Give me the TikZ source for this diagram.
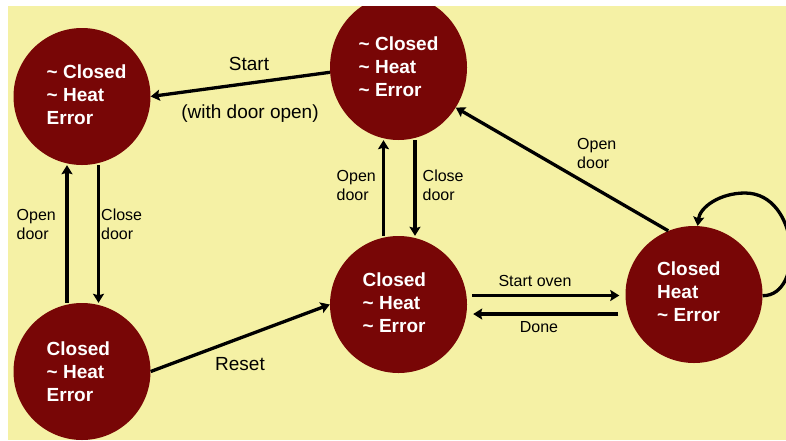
\documentclass[tikz,border=0pt]{standalone}
\usepackage{fontspec}
\setmainfont{Liberation Sans}
\usetikzlibrary{arrows.meta,calc,shapes.geometric}
\definecolor{panel}{RGB}{245,241,165}
\definecolor{statered}{RGB}{120,6,6}
\newcommand{\tl}{\textasciitilde{} }
\begin{document}
\begin{tikzpicture}[x=1pt,y=-1pt,
  state/.style={ellipse,fill=statered,inner sep=0pt,minimum width=137pt,minimum height=137pt},
  statetext/.style={anchor=north west,inner sep=0pt,text=white,align=left,
    font=\fontsize{19}{23}\selectfont\bfseries},
  biglabel/.style={anchor=base,inner sep=0pt,font=\fontsize{19}{23}\selectfont},
  smallbase/.style={anchor=base,inner sep=0pt,font=\fontsize{16}{19}\selectfont},
  smalllabel/.style={anchor=north west,inner sep=0pt,align=left,font=\fontsize{16}{19}\selectfont},
  trans/.style={line width=3.3pt,-{Stealth[length=9pt,width=11pt,inset=1.5pt]}}
]
\useasboundingbox (0,0) rectangle (786,440);
\fill[white] (0,0) rectangle (786,440);
\begin{scope}
  \clip (8,6) rectangle (786,440);
  \fill[panel] (8,6) rectangle (786,440);

  % states
  \node[state] (n1) at (82,96.5) {};
  \node[state,minimum height=145pt] (n2) at (398.5,67.5) {};
  \node[state] (n3) at (82,371.5) {};
  \node[state] (n4) at (398.5,304.5) {};
  \node[state] (n5) at (694,294.5) {};

  % state captions
  \node[statetext] (t1) at (46.5,65) {\tl Closed\\\tl Heat\\Error};
  \node[statetext] (t2) at (358.5,37) {\tl Closed\\\tl Heat\\\tl Error};
  \node[statetext] (t3) at (46.5,342) {Closed\\\tl Heat\\Error};
  \node[statetext] (t4) at (362.5,273) {Closed\\\tl Heat\\\tl Error};
  \node[statetext] (t5) at (657,262) {Closed\\Heat\\\tl Error};

  % transitions
  \draw[trans] (n2.184) -- (n1.east);
  \draw[trans] (n3.east) -- (n4.west);
  \draw[trans] ([xshift=16.5pt]n1.south) -- ([xshift=16.5pt]n3.north);
  \draw[trans] ([xshift=-15pt]n3.north) -- ([xshift=-15pt]n1.south);
  \draw[trans] ([xshift=16.5pt]n2.south) -- ([xshift=16.5pt]n4.north);
  \draw[trans] ([xshift=-15pt]n4.north) -- ([xshift=-15pt]n2.south);
  \draw[trans] ($(n4.east)+(5,-9)$) -- ($(n5.west)+(-6,1)$);
  \draw[trans] ($(n5.west)+(-7,19.5)$) -- ($(n4.east)+(6,9.5)$);
  \draw[trans] (n5.112) -- (n2.-35);
  \draw[trans] (n5.-1) .. controls (805,296) and (800,193) .. (745,193)
    .. controls (720,193) and (700,207) .. (n5.87);

  % transition labels
  \node[biglabel] (lstart) at (249,70) {Start};
  \node[biglabel] (lwith) at (250,118) {(with door open)};
  \node[biglabel] (lreset) at (240,370) {Reset};
  \node[smallbase] (loven) at (535,286) {Start oven};
  \node[smallbase] (ldone) at (539,332) {Done};
  \node[smalllabel] (lo1) at (16.5,209) {Open\\door};
  \node[smalllabel] (lc1) at (101,209) {Close\\door};
  \node[smalllabel] (lo2) at (336.5,170) {Open\\door};
  \node[smalllabel] (lc2) at (422.5,170) {Close\\door};
  \node[smalllabel] (lo3) at (577,138) {Open\\door};
\end{scope}
\end{tikzpicture}
\end{document}
